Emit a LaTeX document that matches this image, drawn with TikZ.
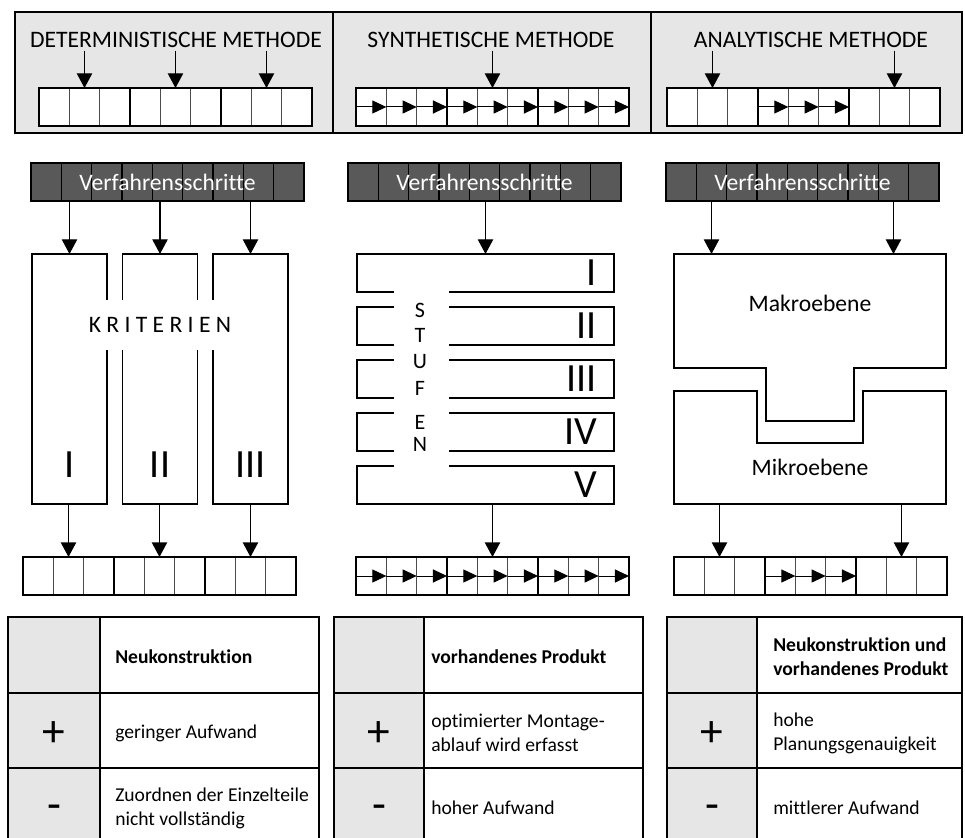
\documentclass[tikz,border=0pt]{standalone}
\usepackage{fontspec}
\setmainfont{Carlito}[Ligatures={NoCommon,NoDiscretionary,NoContextual}]
\usetikzlibrary{arrows.meta,calc}

\definecolor{hellgrau}{HTML}{E6E6E6}
\definecolor{dunkelgrau}{HTML}{595959}

\newcommand\titelfont{\fontsize{17.7}{21}\selectfont}
\newcommand\tabfont{\fontsize{14.7}{18}\selectfont}

% Leiste aus neun Feldern: Name, linker Rand, oberer Rand, Fuellung, Linienfarbe
\newcommand\leiste[5]{%
  \foreach \i in {1,...,9}
    \node[feld,fill=#4,draw=#5] (#1\i) at ({#2+(\i-0.5)*30.33},{#3+19}) {};
  \draw[rahmen] (#11.north west) rectangle (#19.south east);
  \draw[rahmen] (#13.north east) -- (#13.south east)
                (#16.north east) -- (#16.south east);
}

% Bewertungstabelle: Name, x links, x grau, x rechts, x Text, Kopf, plus, minus
\newcommand\tabelle[8]{%
  \fill[hellgrau] (#2,617) rectangle (#3,845);
  \draw[rahmen] (#2,845) -- (#2,617) -- (#4,617) -- (#4,845)
                (#3,617) -- (#3,845)
                (#2,693) -- (#4,693) (#2,768) -- (#4,768);
  \node[tabtext,font=\tabfont\bfseries] (#1kopf) at (#5,657) {#6};
  \node[zeichen] (#1plus) at ({(#2+#3)/2},734) {+};
  \node[tabtext] (#1pro) at (#5,733) {#7};
  \node[zeichen] (#1minus) at ({(#2+#3)/2},812) {-};
  \node[tabtext] (#1contra) at (#5,808) {#8};
}

\begin{document}
\begin{tikzpicture}[x=0.75pt,y=-0.75pt,
    feld/.style={line width=0.75pt,minimum width=22.75pt,minimum height=28.5pt,inner sep=0pt,outer sep=0pt},
    rahmen/.style={line width=1.5pt},
    linie/.style={line width=1.1pt},
    pfeil/.style={line width=1pt,-{Triangle[width=11.5pt,length=11pt]}},
    zpfeil/.style={line width=0.75pt,-{Triangle[width=9.75pt,length=10.5pt]}},
    titel/.style={font=\titelfont,inner sep=2.25pt},
    spalte/.style={minimum width=56.25pt,minimum height=187.5pt,inner sep=0pt,outer sep=0pt},
    stufe/.style={minimum width=192.75pt,minimum height=28.5pt,inner sep=0pt,outer sep=0pt},
    roemisch/.style={font=\fontsize{30}{30}\selectfont,inner sep=0pt},
    buchstabe/.style={font=\fontsize{16.5}{18}\selectfont,inner sep=0pt},
    tabtext/.style={font=\tabfont,anchor=west,align=left,inner sep=0pt},
    zeichen/.style={font=\fontsize{34}{34}\selectfont,inner sep=0pt}]
  \useasboundingbox (0,0) rectangle (965,838);

  % Methoden oben
  \draw[rahmen,fill=hellgrau] (15,12) rectangle (962,133);
  \draw[rahmen] (333,12) -- (333,133) (651,12) -- (651,133);
  \node[titel] (dtitel) at (176,39.5) {DETERMINISTISCHE METHODE};
  \node[titel] (stitel) at (491,39.5) {SYNTHETISCHE METHODE};
  \node[titel] (atitel) at (811,39.5) {ANALYTISCHE METHODE};
  \leiste{td}{39}{88}{white}{black!70}
  \leiste{ts}{356}{88}{white}{black!70}
  \leiste{ta}{667}{88}{white}{black!70}
  \foreach \i in {2,5,8}
    \draw[pfeil] (td\i |- dtitel.south) -- (td\i.north);
  \draw[pfeil] (ts5 |- stitel.south) -- (ts5.north);
  \foreach \i in {2,8}
    \draw[pfeil] (ta\i |- atitel.south) -- (ta\i.north);
  \foreach \i in {1,...,9}
    \draw[zpfeil] (ts\i.west) -- (ts\i.east);
  \foreach \i in {4,5,6}
    \draw[zpfeil] (ta\i.west) -- (ta\i.east);

  % Verfahrensschritte
  \leiste{vd}{31}{163}{dunkelgrau}{black}
  \leiste{vs}{348}{163}{dunkelgrau}{black}
  \leiste{va}{666}{163}{dunkelgrau}{black}
  \node[titel,text=white] (vdtext) at ($(vd1)!0.5!(vd9)$) {Verfahrensschritte};
  \node[titel,text=white] (vstext) at ($(vs1)!0.5!(vs9)$) {Verfahrensschritte};
  \node[titel,text=white] (vatext) at ($(va1)!0.5!(va9)$) {Verfahrensschritte};

  % Kriterien
  \node[spalte] (k1) at (69.5,379) {};
  \node[spalte] (k2) at (160,379) {};
  \node[spalte] (k3) at (250.5,379) {};
  \node[titel,minimum height=36.75pt,inner sep=0pt] (krit) at (160,325) {K R I T E R I E N};
  \draw[linie] (k1.east |- krit.north) -- (k1.north east) -- (k1.north west)
    -- (k1.south west) -- (k1.south east) -- (k1.east |- krit.south);
  \draw[linie] (k2.west |- krit.north) -- (k2.north west) -- (k2.north east) -- (k2.east |- krit.north)
    (k2.west |- krit.south) -- (k2.south west) -- (k2.south east) -- (k2.east |- krit.south);
  \draw[linie] (k3.west |- krit.north) -- (k3.north west) -- (k3.north east)
    -- (k3.south east) -- (k3.south west) -- (k3.west |- krit.south);
  \foreach \i/\r in {1/I,2/II,3/III}
    \node[roemisch] (kr\i) at (k\i |- 0,465) {\r};
  \foreach \i in {1,2,3}
    \draw[pfeil] (k\i |- vd1.south) -- (k\i.north);
  \leiste{bd}{23}{557}{white}{black!70}
  \foreach \i/\j in {1/2,2/5,3/8}
    \draw[pfeil] (bd\j |- k\i.south) -- (bd\j.north);

  % Stufen
  \foreach \i in {1,...,5}
    \node[stufe] (s\i) at (485.5,{220+53*\i}) {};
  \coordinate (gl) at (394,0);
  \coordinate (gr) at (449,0);
  \draw[linie] (gl |- s1.south) -- (s1.south west) -- (s1.north west)
    -- (s1.north east) -- (s1.south east) -- (gr |- s1.south);
  \foreach \i in {2,3,4}
    \draw[linie] (gl |- s\i.north) -- (s\i.north west) -- (s\i.south west) -- (gl |- s\i.south)
      (gr |- s\i.north) -- (s\i.north east) -- (s\i.south east) -- (gr |- s\i.south);
  \draw[linie] (gl |- s5.north) -- (s5.north west) -- (s5.south west)
    -- (s5.south east) -- (s5.north east) -- (gr |- s5.north);
  \foreach \i/\r in {1/I,2/II,3/III,4/IV,5/V}
    \node[roemisch,anchor=east] (sr\i) at ([xshift=-12.5pt]s\i.east) {\r};
  \foreach \b/\yy in {S/310,T/335,U/362,F/388,E/422,N/444}
    \node[buchstabe] (st\b) at (420,\yy) {\b};
  \draw[pfeil] (s1.north |- vs5.south) -- (s1.north);
  \leiste{bs}{356}{557}{white}{black!70}
  \draw[pfeil] (bs5 |- s5.south) -- (bs5.north);
  \foreach \i in {1,...,9}
    \draw[zpfeil] (bs\i.west) -- (bs\i.east);

  % Makro- und Mikroebene
  \draw[linie] (674,254) -- (946,254) -- (946,368) -- (854,368) -- (854,421)
    -- (766,421) -- (766,368) -- (674,368) -- cycle;
  \draw[linie] (674,391) -- (757,391) -- (757,443) -- (863,443) -- (863,391)
    -- (946,391) -- (946,504) -- (674,504) -- cycle;
  \coordinate (makrooben) at (674,254);
  \coordinate (mikrounten) at (674,504);
  \node[titel] (makro) at (810,303.5) {Makroebene};
  \node[titel] (mikro) at (810,467) {Mikroebene};
  \foreach \i in {2,8}
    \draw[pfeil] (va\i.south) -- (va\i |- makrooben);
  \leiste{ba}{674}{557}{white}{black!70}
  \foreach \i in {2,8}
    \draw[pfeil] (ba\i |- mikrounten) -- (ba\i.north);
  \foreach \i in {4,5,6}
    \draw[zpfeil] (ba\i.west) -- (ba\i.east);

  % Bewertung
  \tabelle{tA}{8}{100}{319}{115}{Neukonstruktion}{geringer Aufwand}{Zuordnen der Einzelteile\\nicht vollständig}
  \tabelle{tB}{334}{424}{643}{431}{vorhandenes Produkt}{optimierter Montage-\\ablauf wird erfasst}{hoher Aufwand}
  \tabelle{tC}{667}{757}{962}{773}{Neukonstruktion und\\vorhandenes Produkt}{hohe\\Planungsgenauigkeit}{mittlerer Aufwand}
\end{tikzpicture}
\end{document}
